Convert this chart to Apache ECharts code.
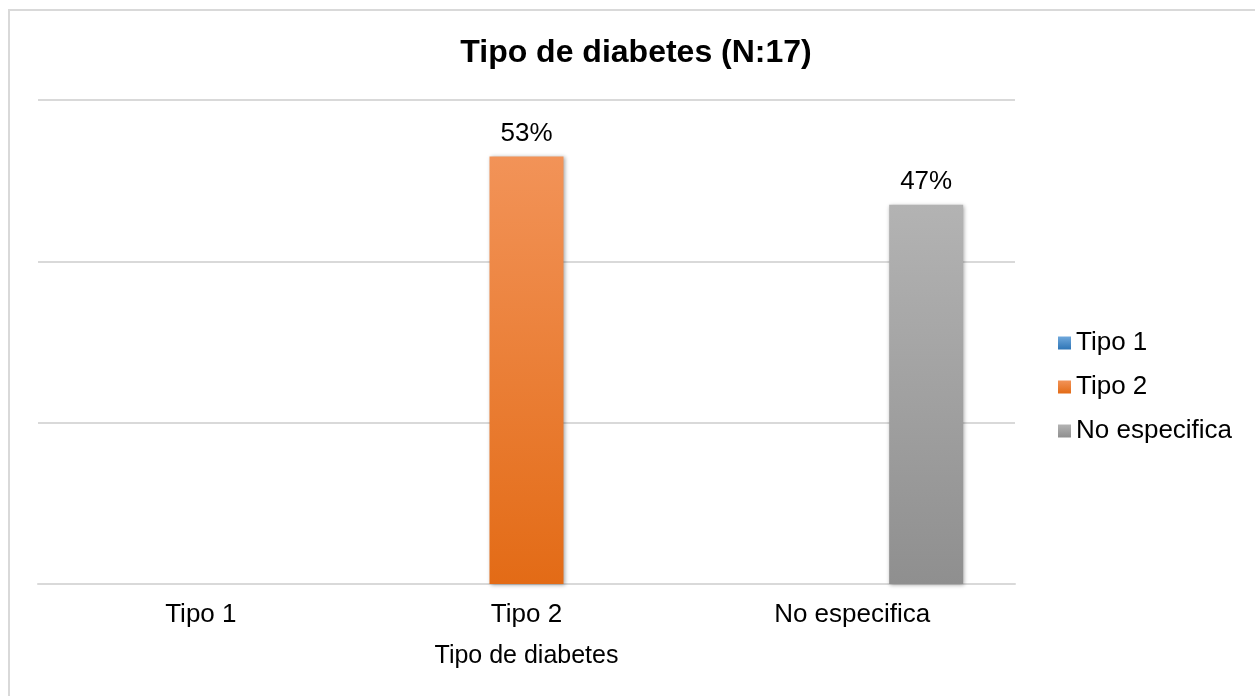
<!DOCTYPE html>
<html>
<head>
<meta charset="utf-8">
<script src="https://cdn.jsdelivr.net/npm/echarts@6/dist/echarts.min.js"></script>
<style>
  html, body { margin: 0; padding: 0; background: #fff; }
  .frame {
    position: absolute; left: 8px; top: 9px; width: 1260px; height: 700px;
    border: 2px solid #d9d9d9; box-sizing: border-box;
  }
  .first { position: absolute; left: 0; top: 0; width: 1255px; height: 696px; }
</style>
</head>
<body>
<div class="frame"></div>
<div class="first"></div>
<script type="text/javascript">
// data
var categories = ["Tipo 1", "Tipo 2", "No especifica"];
var percentages = [0, 53, 47];
var yTicks = [0, 20, 40, 60];

// top / bottom gradient colours per series
var topColors = ["#6fa8dc", "#f29358", "#b3b3b3"];
var bottomColors = ["#2e75b6", "#e36b16", "#8f8f8f"];

var chartDom = document.querySelector(".first");
var myChart = echarts.init(chartDom);

var series = categories.map(function (name, i) {
  return {
    name: name,
    type: "bar",
    barWidth: 74,
    barGap: "0%",
    data: categories.map(function (c, j) {
      return j === i ? percentages[i] : "-";
    }),
    itemStyle: {
      color: new echarts.graphic.LinearGradient(0, 0, 0, 1, [
        { offset: 0, color: topColors[i] },
        { offset: 1, color: bottomColors[i] },
      ]),
      shadowBlur: 4,
      shadowColor: "rgba(0,0,0,0.35)",
      shadowOffsetX: 1,
      shadowOffsetY: 1,
    },
    label: {
      show: percentages[i] > 0,
      position: "top",
      distance: 10,
      formatter: "{c}%",
      color: "#000",
      fontSize: 26,
      fontFamily: "Liberation Sans",
    },
  };
});

var option = {
  animation: false,
  backgroundColor: "transparent",
  title: {
    text: "Tipo de diabetes (N:17)",
    left: 631,
    top: 32,
    textAlign: "center",
    textStyle: {
      fontSize: 32,
      fontWeight: "bold",
      color: "#000",
      fontFamily: "Liberation Sans",
    },
  },
  legend: {
    orient: "vertical",
    left: 1058,
    top: 330,
    padding: 0,
    itemWidth: 13,
    itemHeight: 13,
    itemGap: 18,
    icon: "rect",
    textStyle: { fontSize: 26, color: "#000", fontFamily: "Liberation Sans" },
    data: categories,
  },
  grid: { left: 38, right: 240, top: 100, bottom: 112, containLabel: false },
  xAxis: {
    type: "category",
    data: categories,
    name: "Tipo de diabetes",
    nameLocation: "middle",
    nameGap: 60,
    nameTextStyle: { fontSize: 25, color: "#000", fontFamily: "Liberation Sans" },
    axisLine: { lineStyle: { color: "#d9d9d9", width: 2 } },
    axisTick: { show: false },
    axisLabel: {
      margin: 18,
      fontSize: 26,
      color: "#000",
      fontFamily: "Liberation Sans",
    },
  },
  yAxis: {
    type: "value",
    min: yTicks[0],
    max: yTicks[yTicks.length - 1],
    interval: yTicks[1] - yTicks[0],
    axisLabel: { show: false },
    axisLine: { show: false },
    axisTick: { show: false },
    splitLine: { lineStyle: { color: "#d9d9d9", width: 2 } },
  },
  series: series,
};
option && myChart.setOption(option);
</script>
</body>
</html>
